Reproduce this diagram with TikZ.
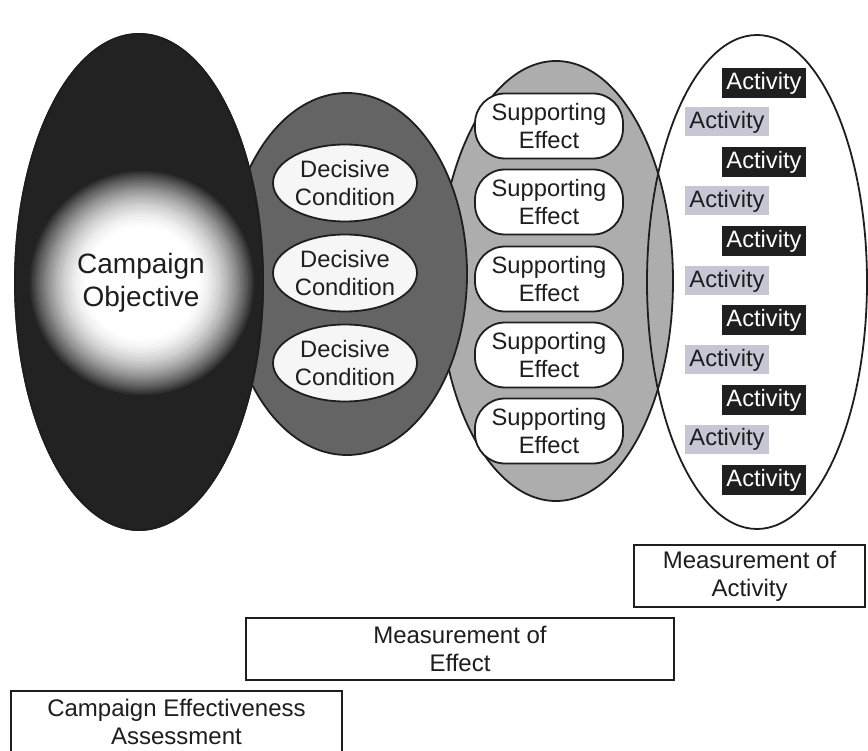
\documentclass[tikz,border=0pt]{standalone}
\usepackage{fontspec}
\setmainfont{Liberation Sans}
\usetikzlibrary{shapes.geometric}

\definecolor{ink}{HTML}{1E1E1E}
\definecolor{objdark}{HTML}{222222}
\definecolor{conddark}{HTML}{646464}
\definecolor{effgray}{HTML}{ADADAD}
\definecolor{condwhite}{HTML}{F6F6F6}
\definecolor{actblack}{HTML}{1F1F1F}
\definecolor{actgray}{HTML}{C6C6D4}

\begin{document}
\begin{tikzpicture}[x=1pt,y=-1pt, % one unit is one pixel of the reference
    lbl/.style={font=\fontsize{23.7}{28}\selectfont, align=center, text=ink},
    oval/.style={ellipse, draw=ink, line width=1.8pt, inner sep=0pt},
    cond/.style={oval, lbl, fill=condwhite, minimum width=144, minimum height=77},
    effect/.style={lbl, draw=ink, line width=1.8pt, fill=white, rounded corners=30, minimum width=148, minimum height=65, inner sep=0pt},
    actdark/.style={lbl, fill=actblack, text=white, minimum width=84, minimum height=30, inner sep=0pt},
    actlight/.style={lbl, fill=actgray, minimum width=84, minimum height=29, inner sep=0pt},
    meas/.style={lbl, font=\fontsize{24}{28}\selectfont, draw=ink, line width=1.6pt, fill=white, minimum height=62, inner sep=0pt}]
    \useasboundingbox (0,0) rectangle (868,751);
    \fill[white] (0,0) rectangle (868,751);

    % Big ovals, back to front
    \node[oval, fill=effgray, minimum width=234, minimum height=440] (effects) at (556,281) {};
    \node[oval, fill=conddark, minimum width=240, minimum height=362] (conditions) at (347,274) {};
    \node[oval, fill=objdark, minimum width=248, minimum height=496] (objective) at (139,282) {};
    % glow behind the objective text
    \foreach \r in {114,112,...,52}{
        \pgfmathtruncatemacro{\glowdark}{100*((\r-52)/62)^1.8}
        \fill[objdark!\glowdark!white] (142,283) circle[radius=\r pt];
    }
    \draw[ink, line width=1.8pt] (objective.center) ellipse[x radius=124pt, y radius=248pt];
    \node[lbl, font=\fontsize{28}{33}\selectfont] (objtext) at (141,283) {Campaign\\Objective};
    \node[oval, minimum width=220, minimum height=494] (activities) at (757,282) {};

    % Decisive conditions
    \node[cond] (dc1) at (345,183) {Decisive\\Condition};
    \node[cond] (dc2) at (345,273) {Decisive\\Condition};
    \node[cond] (dc3) at (345,363) {Decisive\\Condition};

    % Supporting effects
    \node[effect] (se1) at (549,126) {Supporting\\Effect};
    \node[effect] (se2) at (549,202) {Supporting\\Effect};
    \node[effect] (se3) at (549,279) {Supporting\\Effect};
    \node[effect] (se4) at (549,355) {Supporting\\Effect};
    \node[effect] (se5) at (549,431) {Supporting\\Effect};

    % Activities
    \node[actdark] (act1) at (764,83) {Activity};
    \node[actlight] (act2) at (727,122) {Activity};
    \node[actdark] (act3) at (764,162) {Activity};
    \node[actlight] (act4) at (727,201) {Activity};
    \node[actdark] (act5) at (764,241) {Activity};
    \node[actlight] (act6) at (727,281) {Activity};
    \node[actdark] (act7) at (764,320) {Activity};
    \node[actlight] (act8) at (727,360) {Activity};
    \node[actdark] (act9) at (764,400) {Activity};
    \node[actlight] (act10) at (727,439) {Activity};
    \node[actdark] (act11) at (764,480) {Activity};

    % Measurement boxes
    \node[meas, minimum width=231] (moa) at (749.5,576) {Measurement of\\Activity};
    \node[meas, minimum width=428] (moe) at (460,649) {Measurement of\\Effect};
    \node[meas, minimum width=331] (cea) at (176.5,722) {Campaign Effectiveness\\Assessment};
\end{tikzpicture}
\end{document}
